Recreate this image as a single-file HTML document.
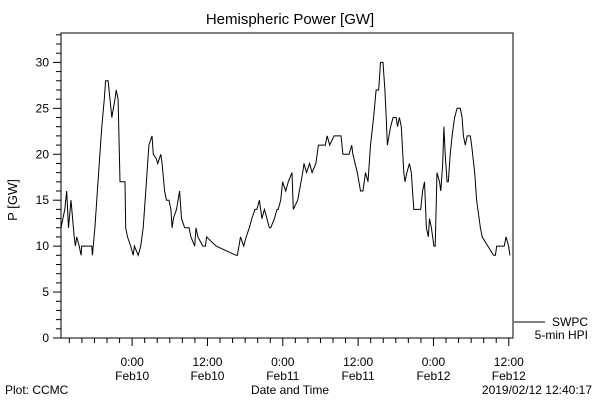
<!DOCTYPE html>
<html><head><meta charset="utf-8"><style>
body{margin:0;background:#fff}
svg{display:block;font-family:"Liberation Sans",sans-serif;}
</style></head><body>
<svg width="600" height="400" viewBox="0 0 600 400">
<rect width="600" height="400" fill="#fff"/>
<text x="290" y="24" font-size="15" text-anchor="middle">Hemispheric Power [GW]</text>
<text x="17" y="200" font-size="13" text-anchor="middle" transform="rotate(-90 17 200)">P [GW]</text>
<rect x="61" y="33" width="452" height="305" fill="none" stroke="#000" stroke-width="1"/>
<g id="axes"></g>
<polyline id="series" fill="none" stroke="#000" stroke-width="1"/>
<line x1="514" y1="322" x2="545" y2="322" stroke="#000"/>
<text x="588" y="326" font-size="12" text-anchor="end">SWPC</text>
<text x="588" y="339" font-size="12" text-anchor="end">5-min HPI</text>
<text x="5" y="394" font-size="12">Plot: CCMC</text>
<text x="290" y="394" font-size="12" text-anchor="middle">Date and Time</text>
<text x="592" y="394" font-size="12" text-anchor="end">2019/02/12 12:40:17</text>
</svg>
<script>
const hours=[0,0.6,0.9,1.2,1.6,2.1,2.3,2.5,2.9,3.2,3.3,4.9,5.0,5.4,5.9,6.5,6.9,7.1,7.5,7.8,8.1,8.6,8.8,9.1,9.4,10.2,10.3,10.6,11.1,11.5,11.7,12.3,12.7,13.1,13.6,14.0,14.5,14.7,15.2,15.4,15.9,16.1,16.5,16.8,17.2,17.5,17.7,17.9,18.4,18.9,19.2,19.7,20.4,20.7,21.3,21.5,21.8,22.6,23.0,23.2,24.7,27.9,28.1,28.6,29.1,29.5,30.0,30.4,30.9,31.2,31.6,32.0,32.4,33.2,33.4,34.0,34.4,34.6,35.0,35.3,35.8,36.2,36.8,37.0,37.7,38.5,38.7,39.1,39.6,40.0,40.6,41.0,42.1,42.4,42.8,43.5,44.6,44.9,45.9,46.3,46.5,47.2,47.7,48.1,48.5,48.9,49.3,49.8,50.2,50.6,50.9,51.3,51.6,51.8,52.0,52.5,52.9,53.4,53.6,53.9,54.2,54.6,54.8,55.1,55.5,55.8,56.2,57.3,57.6,57.9,58.2,58.5,58.7,59.0,59.4,59.6,59.9,60.3,60.5,60.8,61.0,61.2,61.5,61.7,62.0,62.3,62.7,63.1,63.6,63.9,64.1,64.4,64.7,65.2,65.4,65.9,66.2,66.8,67.1,68.0,68.9,69.2,69.4,70.6,70.9,71.3,71.5];
const power=[12,14,16,12,15,11,10,11,10,9,10,10,9,12,17,23,26,28,28,26,24,26,27,26,17,17,12,11,10,9,10,9,10,12,17,21,22,20,19.5,19,20,19,16,15,15,14,12,13,14,16,13,12,12,11,10,12,11,10,10,11,10,9,9,11,10,11,12,13,14,14,15,13,14,12,12,13,14,14,15,17,16,17,18,14,15,18,19,18,19,18,19,21,21,22,21,22,22,20,20,21,20,18,16,16,18,17,21,24,27,27,30,30,27,24,21,23,24,24,23,24,23,18,17,18,19,18,14,14,16,17,12,11,13,12,10,10,18,17,16,19,23,20,17,17,20,22,24,25,25,24,22,21,22,22,21,18,15,12,11,10,9,9,10,10,11,10,9];
const yTicks=[0,5,10,15,20,25,30];
const xTickHours=[11.33,23.33,35.33,47.33,59.33,71.33];
const xTickTime=["0:00","12:00","0:00","12:00","0:00","12:00"];
const xTickDate=["Feb10","Feb10","Feb11","Feb11","Feb12","Feb12"];
const X0=61,X1=513,Y0=338,T=72,YMAX=33.2;
const xs=h=>X0+h/T*(X1-X0);
const ys=v=>Y0-v/YMAX*(Y0-33);
const NS="http://www.w3.org/2000/svg";
const g=document.getElementById('axes');
function mk(tag,attrs){const e=document.createElementNS(NS,tag);for(const k in attrs)e.setAttribute(k,attrs[k]);g.appendChild(e);return e;}
for(let v=0;v<=33;v++){const maj=v%5===0;const y=ys(v);
 const l=mk('line',{x1:X0-(maj?8:5),x2:X0,y1:y,y2:y,stroke:'#000'});
 
 }
yTicks.forEach(v=>{const t=mk('text',{x:X0-12,y:ys(v)+4,'font-size':12,'text-anchor':'end'});t.textContent=v;
 
 });
for(let h=xTickHours[0]%2;h<=T;h+=2){const maj=xTickHours.some(m=>Math.abs(m-h)<0.01);
 const l=mk('line',{x1:xs(h),x2:xs(h),y1:Y0,y2:Y0+(maj?8:5),stroke:'#000'});
 
 }
xTickHours.forEach((h,i)=>{const a=mk('text',{x:xs(h),y:366,'font-size':12,'text-anchor':'middle'});a.textContent=xTickTime[i];
 
 
 const b=mk('text',{x:xs(h),y:380,'font-size':12,'text-anchor':'middle'});b.textContent=xTickDate[i];
 
 });
document.getElementById('series').setAttribute('points',hours.map((h,i)=>xs(h).toFixed(1)+','+ys(power[i]).toFixed(1)).join(' '));
</script>
</body></html>
